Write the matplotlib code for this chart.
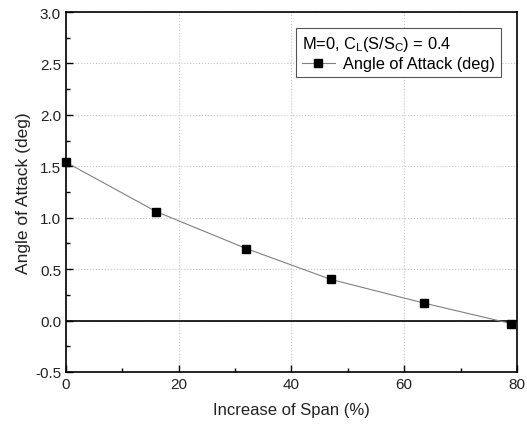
import numpy as np
import matplotlib
matplotlib.use('Agg')
import matplotlib.pyplot as plt
from matplotlib.ticker import MultipleLocator

plt.rcParams['font.family'] = ['Liberation Sans', 'DejaVu Sans']
plt.rcParams['mathtext.default'] = 'regular'
plt.rcParams['axes.unicode_minus'] = False

# data
span = [0, 16, 32, 47, 63.5, 79]
aoa = [1.54, 1.06, 0.70, 0.40, 0.17, -0.03]

fig = plt.figure(figsize=(5.27, 4.27), dpi=100)
ax = fig.add_axes([0.125, 0.1265, 0.856, 0.843])

ax.grid(True, which='major', color='#c8c8c8', linestyle=':', linewidth=0.8)
ax.axhline(0, color='black', linewidth=1.2, zorder=2)
ax.plot(span, aoa, color='#808080', linewidth=0.8, marker='s', markersize=6,
        markerfacecolor='black', markeredgecolor='black',
        label='Angle of Attack (deg)', zorder=3, clip_on=False)

ax.set_xlim(0, 80)
ax.set_ylim(-0.5, 3.0)
ax.xaxis.set_major_locator(MultipleLocator(20))
ax.xaxis.set_minor_locator(MultipleLocator(10))
ax.yaxis.set_major_locator(MultipleLocator(0.5))
ax.yaxis.set_minor_locator(MultipleLocator(0.25))
ax.tick_params(which='both', direction='in', top=False, right=False,
               labelsize=11, labelcolor='#222222')
ax.tick_params(which='major', length=5, width=1)
ax.tick_params(which='minor', length=3, width=1)
for s in ax.spines.values():
    s.set_linewidth(1.2)

ax.set_xlabel('Increase of Span (%)', fontsize=12, labelpad=8, color='#222222')
ax.set_ylabel('Angle of Attack (deg)', fontsize=12.5, labelpad=3, color='#222222')

leg = ax.legend(loc='upper right', title=r'M=0, C$_L$(S/S$_C$) = 0.4',
                fontsize=11.8, title_fontsize=11.8, fancybox=False,
                edgecolor='#555555', framealpha=1, handlelength=2.0,
                handletextpad=0.5, borderpad=0.35, labelspacing=0.2,
                borderaxespad=1.0)
leg._legend_box.align = 'left'
leg.get_frame().set_linewidth(0.8)

fig.savefig('out.png', dpi=100)
